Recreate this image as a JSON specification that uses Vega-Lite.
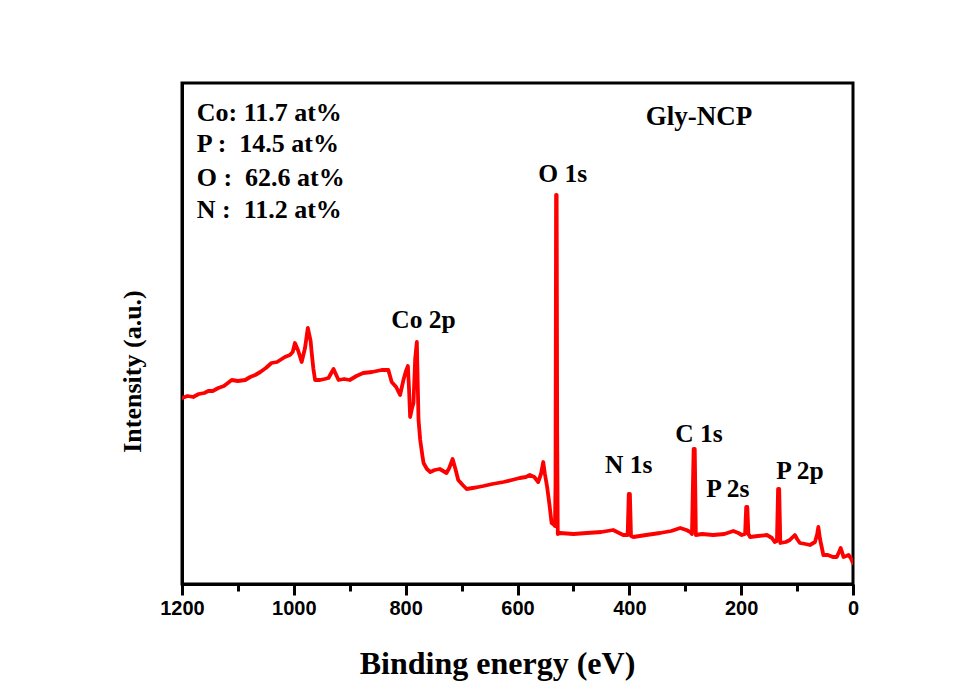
{
  "$schema": "https://vega.github.io/schema/vega-lite/v6.json",
  "width": 671,
  "height": 501,
  "autosize": "none",
  "padding": {"left": 182, "top": 83, "right": 121, "bottom": 110},
  "background": "white",
  "config": {
    "view": {"stroke": "black", "strokeWidth": 3},
    "axis": {"domainColor": "black", "domainWidth": 3, "grid": false}
  },
  "datasets": {
    "spectrum": [
      {"be":1200,"i":186},{"be":1190,"i":188},{"be":1180,"i":187},{"be":1170,"i":190},{"be":1160,"i":191},{"be":1153,"i":193},{"be":1145,"i":193},{"be":1135,"i":196},{"be":1125,"i":198},{"be":1111,"i":204},{"be":1100,"i":203},{"be":1087,"i":204},{"be":1078,"i":207},{"be":1069,"i":209},{"be":1060,"i":212},{"be":1050,"i":216},{"be":1040,"i":221},{"be":1030,"i":222},{"be":1016,"i":227},{"be":1007,"i":229},{"be":1002,"i":232},{"be":998,"i":241},{"be":992,"i":233},{"be":986,"i":222},{"be":980,"i":236},{"be":975,"i":256},{"be":970,"i":243},{"be":968,"i":231},{"be":965,"i":215},{"be":962,"i":204},{"be":953,"i":204},{"be":945,"i":205},{"be":938,"i":206},{"be":933,"i":211},{"be":929,"i":215},{"be":925,"i":210},{"be":920,"i":204},{"be":910,"i":205},{"be":900,"i":204},{"be":888,"i":208},{"be":876,"i":211},{"be":860,"i":212},{"be":843,"i":214},{"be":831,"i":214},{"be":825,"i":202},{"be":817,"i":197},{"be":810,"i":189},{"be":804,"i":204},{"be":800,"i":212},{"be":796,"i":218},{"be":794,"i":195},{"be":792,"i":167},{"be":789,"i":175},{"be":786,"i":181},{"be":783,"i":225},{"be":780,"i":242},{"be":778,"i":190},{"be":777,"i":164},{"be":774,"i":144},{"be":770,"i":128},{"be":768,"i":121},{"be":762,"i":115},{"be":756,"i":112},{"be":748,"i":114},{"be":739,"i":115},{"be":733,"i":113},{"be":727,"i":111},{"be":722,"i":116},{"be":716,"i":125},{"be":711,"i":115},{"be":706,"i":104},{"be":698,"i":99},{"be":691,"i":95},{"be":680,"i":96},{"be":670,"i":97},{"be":661,"i":98},{"be":645,"i":100},{"be":625,"i":102},{"be":610,"i":104},{"be":596,"i":106},{"be":585,"i":107},{"be":578,"i":109},{"be":570,"i":107},{"be":563,"i":102},{"be":558,"i":110},{"be":554,"i":122},{"be":551,"i":110},{"be":547,"i":97},{"be":543,"i":80},{"be":539,"i":61},{"be":536,"i":60},{"be":533,"i":58},{"be":532,"i":100},{"be":531,"i":389},{"be":530,"i":389},{"be":529,"i":150},{"be":528,"i":50},{"be":524,"i":51},{"be":500,"i":50},{"be":476,"i":51},{"be":450,"i":52},{"be":429,"i":54},{"be":411,"i":49},{"be":403,"i":49},{"be":401,"i":90},{"be":399,"i":90},{"be":397,"i":48},{"be":393,"i":47},{"be":370,"i":49},{"be":345,"i":51},{"be":325,"i":53},{"be":309,"i":56},{"be":298,"i":54},{"be":291,"i":52},{"be":288,"i":50},{"be":285,"i":135},{"be":283,"i":135},{"be":281,"i":49},{"be":270,"i":50},{"be":250,"i":49},{"be":230,"i":50},{"be":214,"i":53},{"be":205,"i":51},{"be":199,"i":49},{"be":193,"i":50},{"be":191,"i":77},{"be":189,"i":77},{"be":187,"i":50},{"be":184,"i":47},{"be":170,"i":48},{"be":154,"i":49},{"be":145,"i":46},{"be":140,"i":42},{"be":136,"i":43},{"be":134,"i":95},{"be":132,"i":95},{"be":130,"i":41},{"be":120,"i":42},{"be":113,"i":44},{"be":104,"i":49},{"be":100,"i":45},{"be":95,"i":41},{"be":85,"i":40},{"be":77,"i":39},{"be":68,"i":42},{"be":64,"i":50},{"be":62,"i":57},{"be":59,"i":45},{"be":53,"i":29},{"be":45,"i":29},{"be":36,"i":27},{"be":29,"i":27},{"be":25,"i":32},{"be":22,"i":36},{"be":19,"i":31},{"be":17,"i":27},{"be":12,"i":28},{"be":8,"i":29},{"be":4,"i":26},{"be":0,"i":21}
    ],
    "peaks": [
      {"be":768,"i":264,"label":"Co 2p"},
      {"be":519,"i":410,"label":"O 1s"},
      {"be":401,"i":119,"label":"N 1s"},
      {"be":275.5,"i":150,"label":"C 1s"},
      {"be":224,"i":95,"label":"P 2s"},
      {"be":95,"i":113,"label":"P 2p"}
    ],
    "sample": [
      {"be":275.5,"i":467,"label":"Gly-NCP"}
    ],
    "composition": [
      {"be":1173.7,"i":471,"label":"Co: 11.7 at%"},
      {"be":1173.7,"i":440,"label":"P :\u00a0 14.5 at%"},
      {"be":1173.7,"i":406,"label":"O :\u00a0 62.6 at%"},
      {"be":1173.7,"i":374,"label":"N :\u00a0 11.2 at%"}
    ]
  },
  "layer": [
    {
      "data": {"name": "spectrum"},
      "mark": {"type": "line", "color": "#ff0000", "strokeWidth": 3.8, "strokeJoin": "round", "strokeCap": "round", "clip": true},
      "encoding": {
        "x": {
          "field": "be", "type": "quantitative",
          "scale": {"domain": [0, 1200], "reverse": true, "nice": false, "zero": false},
          "axis": {
            "orient": "bottom",
            "values": [0, 100, 200, 300, 400, 500, 600, 700, 800, 900, 1000, 1100, 1200],
            "format": "d",
            "labelExpr": "datum.value % 200 === 0 ? datum.label : ''",
            "ticks": true,
            "tickColor": "#000000",
            "tickWidth": 3,
            "tickCap": "butt",
            "tickSize": {"condition": {"test": "datum.value % 200 === 0", "value": 11}, "value": 7},
            "labelFont": "Liberation Sans", "labelFontWeight": "bold", "labelFontSize": 20, "labelColor": "black", "labelPadding": 3,
            "labelFlush": false, "labelOverlap": false,
            "title": "Binding energy (eV)",
            "titleFont": "Liberation Serif", "titleFontWeight": "bold", "titleFontSize": 32, "titleColor": "black", "titlePadding": 30,
            "titleX": 315
          }
        },
        "y": {
          "field": "i", "type": "quantitative",
          "scale": {"domain": [0, 501], "nice": false, "zero": false},
          "axis": {
            "labels": false, "ticks": false,
            "title": "Intensity (a.u.)",
            "titleFont": "Liberation Serif", "titleFontWeight": "bold", "titleFontSize": 26, "titleColor": "black", "titlePadding": 37,
            "titleY": 288
          }
        }
      }
    },
    {
      "data": {"name": "peaks"},
      "mark": {"type": "text", "font": "Liberation Serif", "fontWeight": "bold", "fontSize": 25.5, "color": "black", "align": "center", "baseline": "middle"},
      "encoding": {
        "x": {"field": "be", "type": "quantitative"},
        "y": {"field": "i", "type": "quantitative"},
        "text": {"field": "label"}
      }
    },
    {
      "data": {"name": "sample"},
      "mark": {"type": "text", "font": "Liberation Serif", "fontWeight": "bold", "fontSize": 27, "color": "black", "align": "center", "baseline": "middle"},
      "encoding": {
        "x": {"field": "be", "type": "quantitative"},
        "y": {"field": "i", "type": "quantitative"},
        "text": {"field": "label"}
      }
    },
    {
      "data": {"name": "composition"},
      "mark": {"type": "text", "font": "Liberation Serif", "fontWeight": "bold", "fontSize": 26, "color": "black", "align": "left", "baseline": "middle"},
      "encoding": {
        "x": {"field": "be", "type": "quantitative"},
        "y": {"field": "i", "type": "quantitative"},
        "text": {"field": "label"}
      }
    }
  ]
}
